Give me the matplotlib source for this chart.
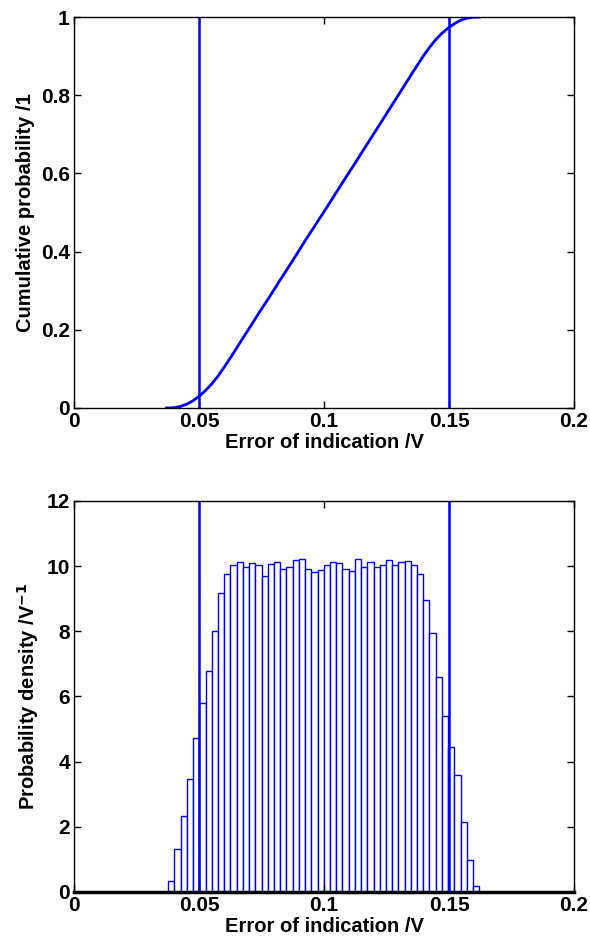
import numpy as np
import matplotlib
matplotlib.use("Agg")
import matplotlib.pyplot as plt

# ------------------ DATA ------------------ #
bin_start = 0.0377
bin_end = 0.1621
density = [0.35, 1.33, 2.34, 3.48, 4.74, 5.79, 6.79, 8.02, 9.18, 9.76,
           10.02, 10.13, 9.98, 10.09, 10.02, 9.70, 10.06, 10.13, 9.90, 9.96,
           10.20, 10.23, 9.92, 9.81, 9.89, 10.02, 10.13, 10.09, 9.90, 9.86,
           10.23, 9.98, 10.13, 9.98, 10.05, 10.20, 10.02, 10.13, 10.17, 10.02,
           9.77, 8.97, 7.94, 6.60, 5.41, 4.44, 3.58, 2.14, 0.98, 0.18]
limits = [0.05, 0.15]

edges = np.linspace(bin_start, bin_end, len(density) + 1)
widths = np.diff(edges)
cdf = np.concatenate([[0], np.cumsum(np.array(density) * widths)])
cdf = cdf / cdf[-1]

plt.rcParams["font.family"] = ["Liberation Sans", "DejaVu Sans"]
plt.rcParams["font.weight"] = "bold"

fig = plt.figure(figsize=(5.9, 9.47), dpi=100)
ax1 = fig.add_axes([0.1254, 0.5692, 0.8475, 0.4128])
ax2 = fig.add_axes([0.1254, 0.0581, 0.8475, 0.4129])

# ---------- CDF ---------- #
ax1.plot(np.concatenate([[0.037], edges, [0.1625]]),
         np.concatenate([[0], cdf, [1]]), color="blue", lw=2)
for x in limits:
    ax1.plot([x, x], [0, 1], color="blue", lw=1.8)
ax1.set_xlim(0, 0.2)
ax1.set_ylim(0, 1)
ax1.set_yticks([0, 0.2, 0.4, 0.6, 0.8, 1])
ax1.set_yticklabels(["0", "0.2", "0.4", "0.6", "0.8", "1"])
ax1.set_ylabel("Cumulative probability /1", fontsize=14.5, fontweight="bold", labelpad=4)
ax1.set_xlabel("Error of indication /V", fontsize=14.5, fontweight="bold", labelpad=1)

# ---------- PDF ---------- #
ax2.bar(edges[:-1], density, width=widths, align="edge",
        facecolor="white", edgecolor="blue", lw=1)
ax2.plot([0, 0.2], [0, 0], color="black", lw=2.5, clip_on=False)
for x in limits:
    ax2.plot([x, x], [0, 12], color="blue", lw=1.8)
ax2.set_xlim(0, 0.2)
ax2.set_ylim(0, 12)
ax2.set_yticks(range(0, 13, 2))
ax2.set_ylabel("Probability density /V$^{\\mathbf{-1}}$", fontsize=14.5, fontweight="bold", labelpad=4)
ax2.set_xlabel("Error of indication /V", fontsize=14.5, fontweight="bold", labelpad=1)

for ax in (ax1, ax2):
    ax.set_xticks([0, 0.05, 0.1, 0.15, 0.2])
    ax.set_xticklabels(["0", "0.05", "0.1", "0.15", "0.2"])
    ax.tick_params(direction="in", length=5, top=True, right=True,
                   labelsize=15, width=1, pad=3)
    for lbl in ax.get_xticklabels() + ax.get_yticklabels():
        lbl.set_fontweight("bold")
    for s in ax.spines.values():
        s.set_linewidth(1)

fig.savefig("out.png", dpi=100)
